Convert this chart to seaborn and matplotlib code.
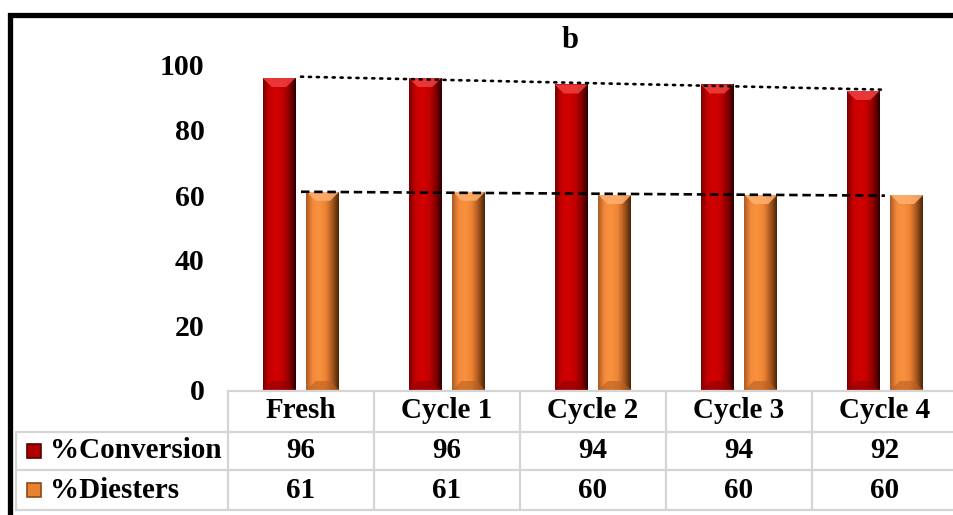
import numpy as np
import pandas as pd
import matplotlib
matplotlib.use("Agg")
import matplotlib.pyplot as plt
import matplotlib.transforms as mtrans
from matplotlib.lines import Line2D
from matplotlib.patches import Rectangle, Polygon
from matplotlib.colors import LinearSegmentedColormap
import seaborn as sns

categories = ["Fresh", "Cycle 1", "Cycle 2", "Cycle 3", "Cycle 4"]
series_names = ["%Conversion", "%Diesters"]
conversion = [96, 96, 94, 94, 92]
diesters = [61, 61, 60, 60, 60]
yticks = [0, 20, 40, 60, 80, 100]
title = "b"

sns.set_theme(style="white")
plt.rcParams['font.family'] = ['Liberation Serif', 'DejaVu Serif']
plt.rcParams['font.weight'] = 'bold'
plt.rcParams['text.color'] = 'black'
plt.rcParams['ytick.color'] = 'black'
plt.rcParams['ytick.labelcolor'] = 'black'

W, H = 954, 515
fig = plt.figure(figsize=(W / 100, H / 100), dpi=100)
ax = fig.add_axes([228 / W, (H - 390) / H, (958 - 228) / W, 325 / H])

df = pd.DataFrame({
    "cat": categories * 2,
    "series": [series_names[0]] * len(categories) + [series_names[1]] * len(categories),
    "value": conversion + diesters,
})
main_cols = ["#CC0000", "#F58A3A"]
sns.barplot(data=df, x="cat", y="value", hue="series", palette=main_cols,
            width=0.6, gap=0.25, ax=ax, saturation=1, legend=False, zorder=2)

ax.set_xlim(-0.5, len(categories) - 0.5)
ax.set_ylim(0, 100)

# 3D-like shading for bars
grads = [
    ["#7A0000", "#C80000", "#D20000", "#C40000", "#8A0000", "#2A0000"],
    ["#A85A25", "#F58A3A", "#F8923F", "#EE8434", "#A85820", "#4A2408"],
]
tops = ["#F04040", "#FFB070"]
bots = ["#900000", "#B86020"]
n = len(categories)
px_per_unit = 325 / 100
for i, p in enumerate(ax.patches[:2 * n]):
    s = i // n
    x0, y0 = p.get_x(), p.get_y()
    w, h = p.get_width(), p.get_height()
    cmap = LinearSegmentedColormap.from_list("g%d" % s, grads[s])
    grad = np.linspace(0, 1, 256).reshape(1, -1)
    im = ax.imshow(grad, cmap=cmap, aspect="auto", extent=[x0, x0 + w, y0, y0 + h],
                   zorder=2.5, interpolation="bicubic")
    im.set_clip_path(p)
    bh = 9 / px_per_unit
    inset = w * 0.28
    ax.add_patch(Polygon([[x0, y0 + h], [x0 + w, y0 + h], [x0 + w - inset, y0 + h - bh],
                          [x0 + inset, y0 + h - bh]], closed=True, facecolor=tops[s],
                         edgecolor="none", alpha=0.85, zorder=2.6))
    ax.add_patch(Polygon([[x0, y0], [x0 + w, y0], [x0 + w - inset, y0 + bh],
                          [x0 + inset, y0 + bh]], closed=True, facecolor=bots[s],
                         edgecolor="none", alpha=0.6, zorder=2.6))

# linear trendlines
xs = np.arange(n)
for vals, ls in [(conversion, (0, (0.8, 2.2))), (diesters, (0, (3.2, 1.8)))]:
    k, b = np.polyfit(xs, vals, 1)
    ax.plot(xs, k * xs + b, color="black", lw=1.9, linestyle=ls, zorder=4,
            dash_capstyle="round" if ls[1][0] < 1 else "butt")

ax.set_yticks(yticks)
ax.set_yticklabels([str(t) for t in yticks], fontsize=21.5, fontweight="bold", color="black")
ax.tick_params(axis="y", length=0, pad=17)
ax.set_xticks([])
ax.set_xlabel("")
ax.set_ylabel("")
for sp in ax.spines.values():
    sp.set_visible(False)

# data table below the axes
bt = mtrans.blended_transform_factory(ax.transData, fig.transFigure)
ft = fig.transFigure
def fy(py):
    return 1 - py / H

gcol = "#D4D4D4"
glw = 1.6
xr = len(categories) - 0.5 + 0.05
fig.add_artist(Line2D([-0.5, xr], [fy(391), fy(391)], transform=bt, color=gcol, lw=glw))
for py in [432, 470, 510]:
    fig.add_artist(Line2D([16 / W, 1.0], [fy(py), fy(py)], transform=ft, color=gcol, lw=glw))
for i in range(n + 1):
    fig.add_artist(Line2D([i - 0.5, i - 0.5], [fy(391), fy(510)], transform=bt, color=gcol, lw=glw))
fig.add_artist(Line2D([16 / W, 16 / W], [fy(432), fy(510)], transform=ft, color=gcol, lw=glw))

fs = 21
for i, c in enumerate(categories):
    fig.text(i, fy(411), c, transform=bt, ha="center", va="center", fontsize=fs, fontweight="bold")
    fig.text(i, fy(451), str(conversion[i]), transform=bt, ha="center", va="center", fontsize=fs, fontweight="bold")
    fig.text(i, fy(490), str(diesters[i]), transform=bt, ha="center", va="center", fontsize=fs, fontweight="bold")

key_cols = [("#B00000", "#5A0000"), ("#E8822F", "#8A4A1A")]
for (py, name, (fc, ec)) in zip([451, 490], series_names, key_cols):
    fig.add_artist(Rectangle((27 / W, fy(py + 7)), 14 / W, 14 / H, transform=ft,
                             facecolor=fc, edgecolor=ec, lw=1.2))
    fig.text(50 / W, fy(py), name, transform=ft, ha="left", va="center", fontsize=fs, fontweight="bold")

fig.text(570 / W, fy(40), title, ha="center", va="center", fontsize=22, fontweight="bold")

# outer black frame
fig.add_artist(Rectangle((10.5 / W, -0.05), 1.2, fy(15) + 0.05, transform=ft,
                         facecolor="none", edgecolor="black", lw=3.8, clip_on=False))

fig.savefig("out.png", dpi=100)
